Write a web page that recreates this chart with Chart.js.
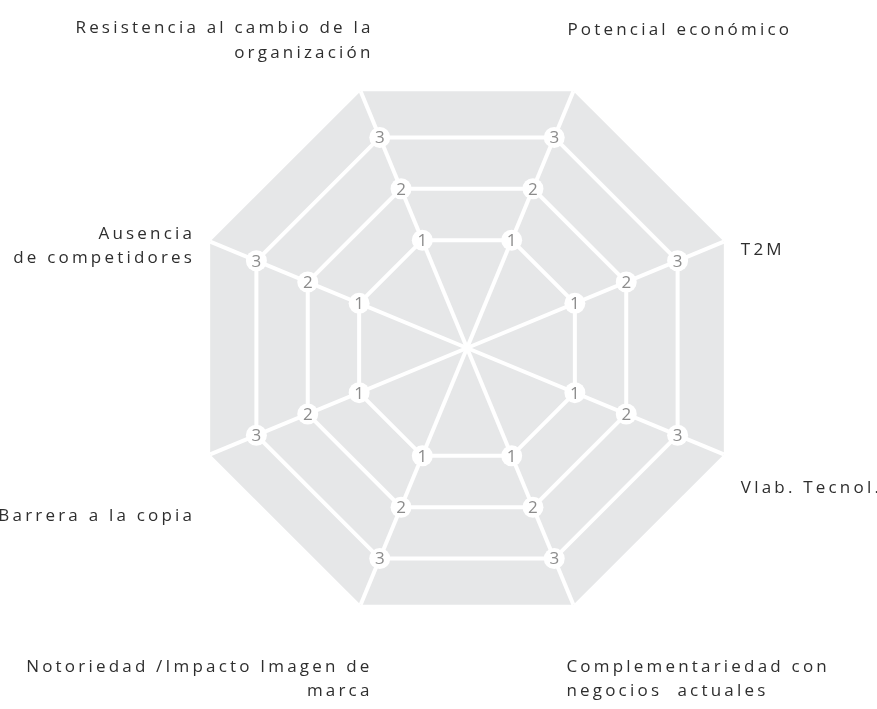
<!DOCTYPE html>
<html>
<head>
<meta charset="utf-8">
<script src="https://cdn.jsdelivr.net/npm/chart.js@4"></script>
<style>html,body{margin:0;padding:0;background:#ffffff;}canvas{display:block;}</style>
</head>
<body>
<canvas id="chart" width="877" height="709"></canvas>
<script>
// ---- data ----
const categories = [
  ['Potencial económico'],
  ['T2M'],
  ['Vlab. Tecnol.'],
  ['Complementariedad con', 'negocios  actuales'],
  ['Notoriedad /Impacto Imagen de', 'marca'],
  ['Barrera a la copia'],
  ['Ausencia', 'de competidores'],
  ['Resistencia al cambio de la', 'organización']
];
const seriesValues = [];          // no series is drawn in the reference
const tickValues = [1, 2, 3];
const axisMin = -1.1;
const axisMax = 3.9;

// ---- layout of the axis titles, relative to each outer vertex ----
const labelLayout = [
  { align: 'left',  dx: -6,  dy: -56 },
  { align: 'left',  dx: 17,  dy: 13 },
  { align: 'left',  dx: 17,  dy: 39 },
  { align: 'left',  dx: -7,  dy: 67 },
  { align: 'right', dx: 12,  dy: 67 },
  { align: 'right', dx: -15, dy: 67 },
  { align: 'right', dx: -15, dy: -3 },
  { align: 'right', dx: 13,  dy: -58 }
];
const lineGap = 24.5;

const decor = {
  id: 'decor',
  afterDraw(chart) {
    const s = chart.scales.r;
    const ctx = chart.ctx;
    ctx.save();
    // tick labels on every spoke, with round white backdrops
    ctx.font = '17px "Open Sans"';
    ctx.textAlign = 'center';
    ctx.textBaseline = 'middle';
    chart.data.labels.forEach((_, i) => {
      tickValues.forEach(v => {
        const p = s.getPointPositionForValue(i, v);
        ctx.beginPath();
        ctx.arc(p.x, p.y, 10.5, 0, Math.PI * 2);
        ctx.fillStyle = '#ffffff';
        ctx.fill();
        ctx.fillStyle = '#8c8c8c';
        ctx.fillText(String(v), p.x, p.y + 1);
      });
    });
    // axis titles
    ctx.font = '17px "Open Sans"';
    try { ctx.letterSpacing = '3.2px'; } catch (e) {}
    ctx.fillStyle = '#2e2e2e';
    ctx.textBaseline = 'alphabetic';
    chart.data.labels.forEach((lines, i) => {
      const p = s.getPointPosition(i, s.drawingArea);
      const L = labelLayout[i];
      ctx.textAlign = L.align;
      lines.forEach((t, k) => ctx.fillText(t, p.x + L.dx, p.y + L.dy + k * lineGap));
    });
    ctx.restore();
  }
};

new Chart(document.getElementById('chart'), {
  type: 'radar',
  data: {
    labels: categories,
    datasets: [{
      label: 'Serie',
      data: seriesValues,
      borderWidth: 0,
      pointRadius: 0,
      backgroundColor: 'rgba(0,0,0,0)'
    }]
  },
  options: {
    responsive: false,
    animation: false,
    layout: { padding: { left: 189, right: 131, top: 70, bottom: 82 } },
    plugins: { legend: { display: false }, tooltip: { enabled: false }, title: { display: false } },
    scales: {
      r: {
        min: axisMin,
        max: axisMax,
        startAngle: 22.5,
        backgroundColor: '#e6e7e8',
        afterBuildTicks: (scale) => {
          scale.ticks = [axisMin].concat(tickValues).map(v => ({ value: v }));
        },
        grid: { color: '#ffffff', lineWidth: 4 },
        angleLines: { color: '#ffffff', lineWidth: 4 },
        ticks: { display: false },
        pointLabels: { display: false }
      }
    }
  },
  plugins: [decor]
});
</script>
</body>
</html>
